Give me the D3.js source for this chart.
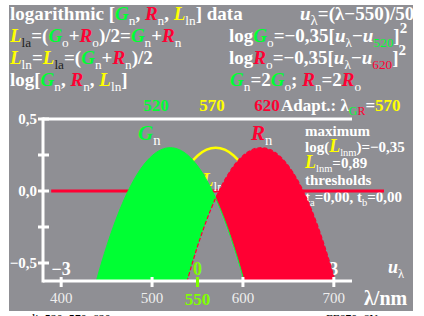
<!DOCTYPE html>
<html>
<head>
<meta charset="utf-8">
<script src="https://cdn.jsdelivr.net/npm/d3@7"></script>
<style>
  body { margin: 0; background: #fff; }
  svg { display: block; font-family: "Liberation Serif", "Times New Roman", serif; font-weight: bold; }
</style>
</head>
<body>
<div id="chart"></div>
<script>
// wavelengths (nm) and log values
const lambdaG = [430, 440, 450, 460, 470, 480, 490, 500, 510, 520, 530, 540, 550, 560, 570, 580, 590, 600, 610];
const logGn = [-0.833, -0.595, -0.385, -0.203, -0.049, 0.077, 0.175, 0.245, 0.287, 0.301, 0.287, 0.245, 0.175, 0.077, -0.049, -0.203, -0.385, -0.595, -0.833];
const lambdaR = [530, 540, 550, 560, 570, 580, 590, 600, 610, 620, 630, 640, 650, 660, 670, 680, 690, 700, 710];
const logRn = [-0.833, -0.595, -0.385, -0.203, -0.049, 0.077, 0.175, 0.245, 0.287, 0.301, 0.287, 0.245, 0.175, 0.077, -0.049, -0.203, -0.385, -0.595, -0.833];
const lambdaL = [480, 490, 500, 510, 520, 530, 540, 550, 560, 570, 580, 590, 600, 610, 620, 630, 640, 650, 660];
const logLln = [-0.833, -0.595, -0.385, -0.203, -0.049, 0.077, 0.175, 0.245, 0.287, 0.301, 0.287, 0.245, 0.175, 0.077, -0.049, -0.203, -0.385, -0.595, -0.833];

const xTicks = [400, 500, 600, 700];
const yTicks = [0.5, 0.25, 0, -0.25, -0.5];
const yTickLabels = { "0.5": "0,5", "0": "0,0", "-0.5": "\u22120,5" };
const uLabels = [{ l: 400, t: "\u22123" }, { l: 550, t: "0" }, { l: 700, t: "3" }];

const W = 424, H = 316;
const GRAY = "#8f8f94", GREEN = "#00ff33", RED = "#ff0033", YEL = "#ffff00", LIME = "#80ff00";

const svg = d3.select("#chart").append("svg").attr("width", W).attr("height", H);

svg.append("rect").attr("x", 9).attr("y", 5).attr("width", 404).attr("height", 306).attr("fill", GRAY);

const x = d3.scaleLinear().domain([380, 720]).range([43, 352]);
const y = d3.scaleLinear().domain([-0.625, 0.5]).range([281, 119]);

// rich text helper: segments with colour, italic, sub / sup
function rich(x0, y0, segs, opt) {
  opt = opt || {};
  const fs = opt.fs || 19;
  const t = svg.append("text").attr("x", x0).attr("y", y0)
    .attr("font-size", fs).attr("fill", "#fff")
    .attr("text-anchor", opt.anchor || "start");
  let off = 0;
  segs.forEach(s => {
    if (typeof s === "string") s = { t: s };
    let target = 0;
    let size = s.fs || fs;
    if (s.sub) { target = fs * 0.25; size = s.fs || fs * 0.7; }
    if (s.sup) { target = -fs * 0.45; size = s.fs || fs * 0.7; }
    const sp = t.append("tspan").text(s.t)
      .attr("dy", target - off)
      .attr("font-size", size)
      .attr("fill", s.c || "#fff");
    if (s.i) sp.attr("font-style", "italic");
    if (s.sub || s.sup) sp.attr("font-weight", s.w || "normal");
    off = target;
  });
  return t;
}
const sub = (t, c) => ({ t: t, sub: true, c: c });
const G = { t: "G", c: GREEN, i: true }, R = { t: "R", c: RED, i: true }, L = { t: "L", c: YEL, i: true };
const U = { t: "u", i: true };

// header lines
rich(10, 20, ["logarithmic [", G, sub("n"), ", ", R, sub("n"), ", ", L, sub("ln"), "] data"]);
rich(300, 20, [U, { t: "\u03bb", sub: true, fs: 15 }, "=(\u03bb\u2212550)/50"]);
rich(10, 42, [L, sub("la", "#222"), "=(", G, sub("o"), "+", R, sub("o"), ")/2=", G, sub("n"), "+", R, sub("n")]);
rich(229, 42, ["log", G, sub("o"), "=\u22120,35[", U, sub("\u03bb"), "\u2212", U, sub("520", GREEN), "]", { t: "2", sup: true, fs: 15, w: "bold" }]);
rich(10, 64, [L, sub("ln"), "=", L, sub("la", "#222"), "=(", G, sub("n"), "+", R, sub("n"), ")/2"]);
rich(229, 64, ["log", R, sub("o"), "=\u22120,35[", U, sub("\u03bb"), "\u2212", U, sub("620", RED), "]", { t: "2", sup: true, fs: 15, w: "bold" }]);
rich(10, 86, ["log[", G, sub("n"), ", ", R, sub("n"), ", ", L, sub("ln"), "]"]);
rich(230, 86, [G, sub("n"), "=2", G, sub("o"), "; ", R, sub("n"), "=2", R, sub("o")]);

rich(156, 111, [{ t: "520", c: GREEN }], { anchor: "middle", fs: 17 });
rich(212, 111, [{ t: "570", c: YEL }], { anchor: "middle", fs: 17 });
rich(267, 111, [{ t: "620", c: RED }], { anchor: "middle", fs: 17 });
rich(281, 111, ["Adapt.: \u03bb", sub("G", GREEN), { t: "R", sub: true, c: RED }, "=", { t: "570", c: YEL }], { fs: 17 });

// right info block
rich(305, 136, ["maximum"], { fs: 15 });
rich(305, 152, ["log(", { t: "L", c: YEL, i: true, fs: 18 }, sub("lnm"), ")=\u22120,35"], { fs: 15 });
rich(305, 168, [{ t: "L", c: YEL, i: true, fs: 18 }, sub("lnm"), "=0,89"], { fs: 15 });
rich(305, 185, ["thresholds"], { fs: 15 });
rich(305, 202, ["t", sub("a"), "=0,00, t", sub("b"), "=0,00"], { fs: 15 });

// zero line
svg.append("line").attr("x1", x(389)).attr("x2", 384).attr("y1", y(0)).attr("y2", y(0))
  .attr("stroke", RED).attr("stroke-width", 3);

// u labels and curve labels (under the fills)
uLabels.forEach(d => {
  rich(x(d.l), 275, [{ t: d.t, c: d.l === 550 ? LIME : "#fff" }], { anchor: "middle", fs: 18 });
});
rich(388, 273, [U, sub("\u03bb")], { fs: 18 });
rich(138, 140, [{ t: "G", c: GREEN, i: true }, sub("n")], { fs: 21 });
rich(251, 140, [{ t: "R", c: RED, i: true }, sub("n")], { fs: 21 });
rich(202, 186, [{ t: "L", c: YEL, i: true }, sub("ln")], { fs: 19 });

// clip paths
const defs = svg.append("defs");
defs.append("clipPath").attr("id", "plot").append("rect")
  .attr("x", x(380)).attr("y", y(0.5)).attr("width", x(720) - x(380)).attr("height", y(-0.625) - y(0.5));

const gPts = lambdaG.map((l, i) => [l, logGn[i]]);
const rPts = lambdaR.map((l, i) => [l, logRn[i]]);
const lPts = lambdaL.map((l, i) => [l, logLln[i]]);

const line = d3.line().x(d => x(d[0])).y(d => y(d[1])).curve(d3.curveNatural);
const under = d3.area().x(d => x(d[0])).y0(y(-0.625)).y1(d => y(d[1])).curve(d3.curveNatural);
const above = d3.area().x(d => x(d[0])).y0(0).y1(d => y(d[1])).curve(d3.curveNatural);

const cR = defs.append("clipPath").attr("id", "aboveR");
cR.append("rect").attr("x", 0).attr("y", 0).attr("width", x(lambdaR[0])).attr("height", H);
cR.append("path").attr("d", above(rPts));
const cG = defs.append("clipPath").attr("id", "aboveG");
cG.append("rect").attr("x", x(lambdaG[lambdaG.length - 1])).attr("y", 0).attr("width", W).attr("height", H);
cG.append("path").attr("d", above(gPts));

const plot = svg.append("g").attr("clip-path", "url(#plot)");
plot.append("path").attr("d", line(lPts)).attr("fill", "none").attr("stroke", YEL).attr("stroke-width", 2.5);
plot.append("g").attr("clip-path", "url(#aboveR)").append("path").attr("d", under(gPts)).attr("fill", GREEN);
plot.append("g").attr("clip-path", "url(#aboveG)").append("path").attr("d", under(rPts)).attr("fill", RED);
plot.append("path").attr("d", line(gPts)).attr("fill", "none").attr("stroke", GREEN).attr("stroke-width", 1);
plot.append("path").attr("d", line(rPts)).attr("fill", "none").attr("stroke", RED).attr("stroke-width", 1.2)
  .attr("stroke-dasharray", "4,2");

// axes
const ax = svg.append("g").attr("stroke", "#fff").attr("stroke-width", 3);
ax.append("line").attr("x1", x(380)).attr("x2", x(380)).attr("y1", y(0.5) - 1.5).attr("y2", y(-0.625) + 1.5);
ax.append("line").attr("x1", x(380)).attr("x2", x(720)).attr("y1", y(-0.625)).attr("y2", y(-0.625));
ax.append("line").attr("x1", x(380)).attr("x2", x(720)).attr("y1", y(0.5)).attr("y2", y(0.5));
ax.selectAll(".yt").data(yTicks).enter().append("line")
  .attr("x1", x(380) - 5).attr("x2", x(380) + 6).attr("y1", d => y(d)).attr("y2", d => y(d));
ax.selectAll(".xt").data(xTicks).enter().append("line")
  .attr("x1", d => x(d)).attr("x2", d => x(d)).attr("y1", y(-0.625) - 4).attr("y2", y(-0.625) + 6);
svg.append("line").attr("x1", x(550)).attr("x2", x(550)).attr("y1", y(-0.625) - 4).attr("y2", y(-0.625) + 6)
  .attr("stroke", LIME).attr("stroke-width", 3);

yTicks.filter(d => yTickLabels[String(d)]).forEach(d => {
  rich(37, y(d) + 5, [yTickLabels[String(d)]], { anchor: "end", fs: 15 });
});
xTicks.forEach(d => {
  svg.append("text").attr("x", x(d)).attr("y", 303).attr("text-anchor", "middle")
    .attr("font-size", 15).attr("font-weight", "normal").attr("fill", "#eee").text(d);
});
rich(x(550), 305, [{ t: "550", c: LIME }], { anchor: "middle", fs: 17 });
rich(364, 305, ["\u03bb/nm"], { fs: 20 });

// footer labels (cut by the window edge)
svg.append("text").attr("x", 32).attr("y", 323).attr("font-size", 12).attr("font-weight", "normal").text("lin520_570_620");
svg.append("text").attr("x", 326).attr("y", 323).attr("font-size", 12).attr("font-weight", "normal").text("FF670_6N");
</script>
</body>
</html>
